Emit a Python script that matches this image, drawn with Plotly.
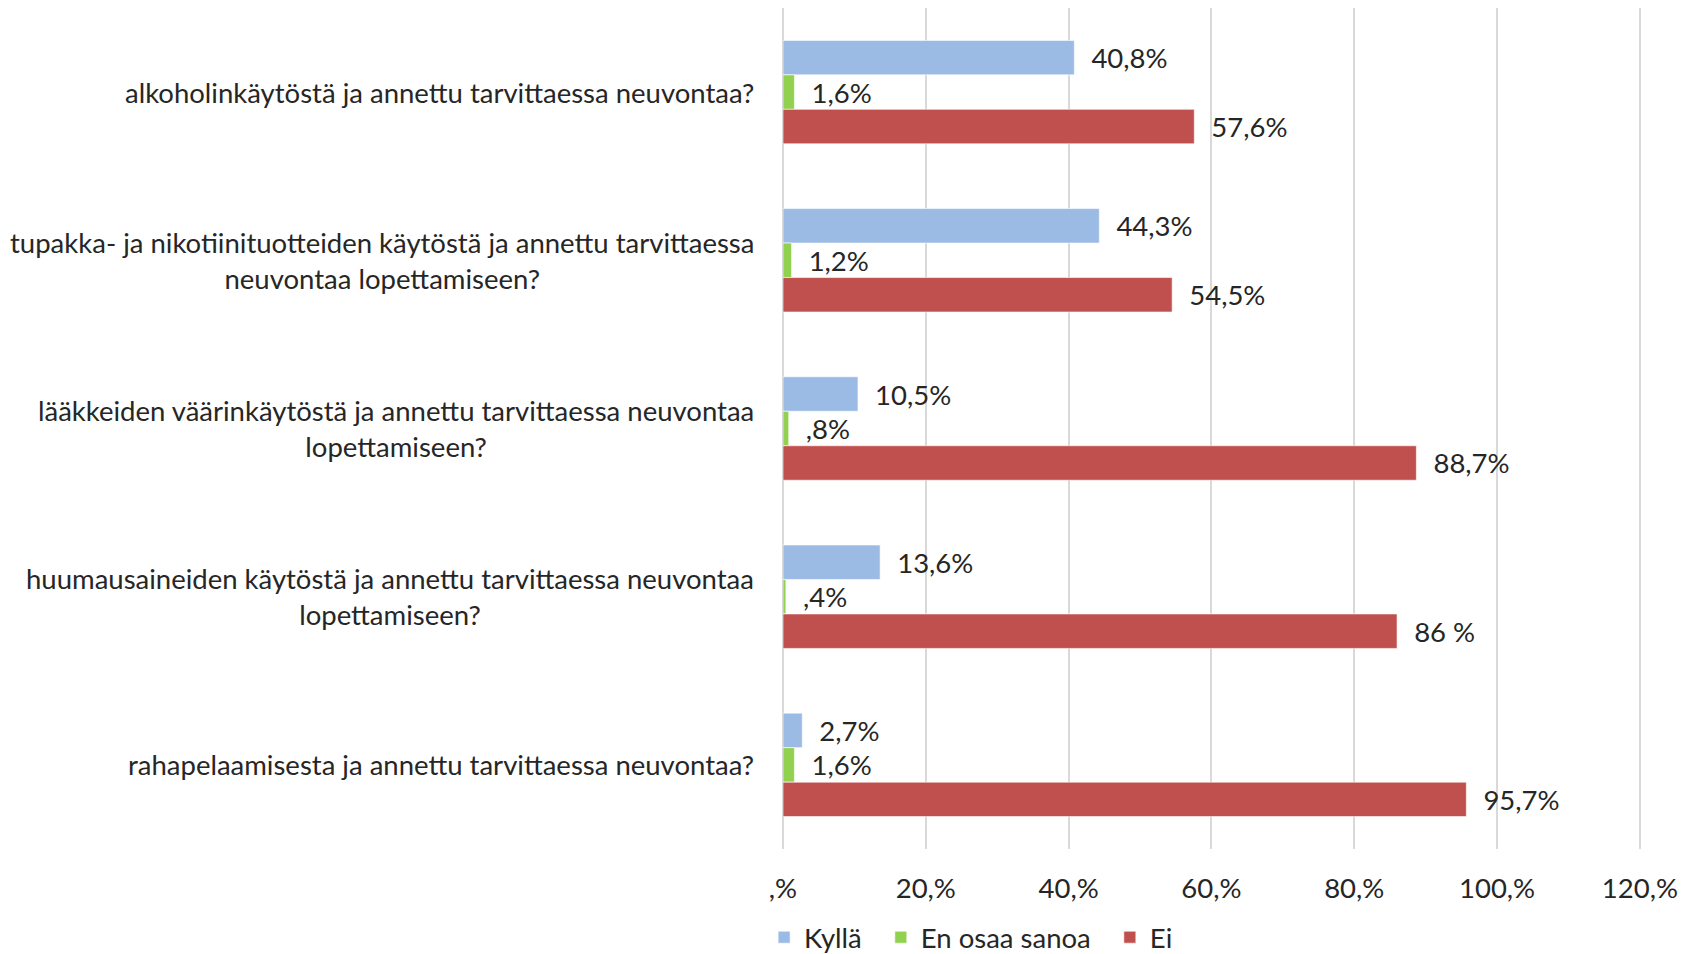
import plotly.graph_objects as go

categories = [
    "alkoholinkäytöstä ja annettu tarvittaessa neuvontaa?",
    "tupakka- ja nikotiinituotteiden käytöstä ja annettu tarvittaessa<br>neuvontaa lopettamiseen?",
    "lääkkeiden väärinkäytöstä ja annettu tarvittaessa neuvontaa<br>lopettamiseen?",
    "huumausaineiden käytöstä ja annettu tarvittaessa neuvontaa<br>lopettamiseen?",
    "rahapelaamisesta ja annettu tarvittaessa neuvontaa?",
]
cat_ids = ["c1", "c2", "c3", "c4", "c5"]

kylla = [40.8, 44.3, 10.5, 13.6, 2.7]
kylla_lbl = ["40,8%", "44,3%", "10,5%", "13,6%", "2,7%"]
eos = [1.6, 1.2, 0.8, 0.4, 1.6]
eos_lbl = ["1,6%", "1,2%", ",8%", ",4%", "1,6%"]
ei = [57.6, 54.5, 88.7, 86.0, 95.7]
ei_lbl = ["57,6%", "54,5%", "88,7%", "86 %", "95,7%"]

tick_vals = [0, 20, 40, 60, 80, 100, 120]
tick_text = [",%", "20,%", "40,%", "60,%", "80,%", "100,%", "120,%"]

FONT = "Lato, Liberation Sans, sans-serif"
FS = 27.5
TXT = "#262626"

series = [
    ("Kyllä\u00a0\u00a0", kylla, kylla_lbl, "#9BBBE5"),
    ("En osaa sanoa\u00a0\u00a0", eos, eos_lbl, "#92D050"),
    ("Ei", ei, ei_lbl, "#C0504D"),
]

fig = go.Figure()
for name, vals, lbls, col in series:
    fig.add_trace(go.Bar(
        name=name, y=cat_ids, x=vals, orientation="h",
        marker=dict(color=col, line=dict(color="rgba(255,255,255,0.6)", width=1)),
        text=["\u00a0\u00a0" + t for t in lbls], textposition="outside",
        textfont=dict(family=FONT, size=FS, color=TXT),
        cliponaxis=False,
    ))

annotations = []
for cid, label in zip(cat_ids, categories):
    annotations.append(dict(
        x=-0.032, xref="paper", y=cid, yref="y", text=label,
        xanchor="right", yanchor="middle", align="center", showarrow=False,
        font=dict(family=FONT, size=FS, color=TXT),
    ))

fig.update_layout(
    width=1694, height=954,
    margin=dict(l=775, r=60, t=0, b=104),
    paper_bgcolor="white", plot_bgcolor="white",
    barmode="group", bargap=0.385, bargroupgap=0,
    font=dict(family=FONT, size=FS, color=TXT),
    annotations=annotations,
    legend=dict(orientation="h", x=-0.022, xanchor="left", y=-0.105, yanchor="middle",
                font=dict(family=FONT, size=FS, color=TXT), traceorder="normal"),
    xaxis=dict(range=[0, 120.3], tickvals=tick_vals, ticktext=tick_text,
               showgrid=True, gridcolor="#D9D9D9", gridwidth=2,
               zeroline=True, zerolinecolor="#D9D9D9", zerolinewidth=2,
               showline=False, ticks="", ticklabelstandoff=20, automargin=False,
               tickfont=dict(family=FONT, size=FS, color=TXT)),
    yaxis=dict(type="category", categoryorder="array", categoryarray=cat_ids,
               autorange="reversed", showticklabels=False, showgrid=False,
               zeroline=False, showline=False, ticks="", automargin=False),
)

fig.write_html("out.html")
